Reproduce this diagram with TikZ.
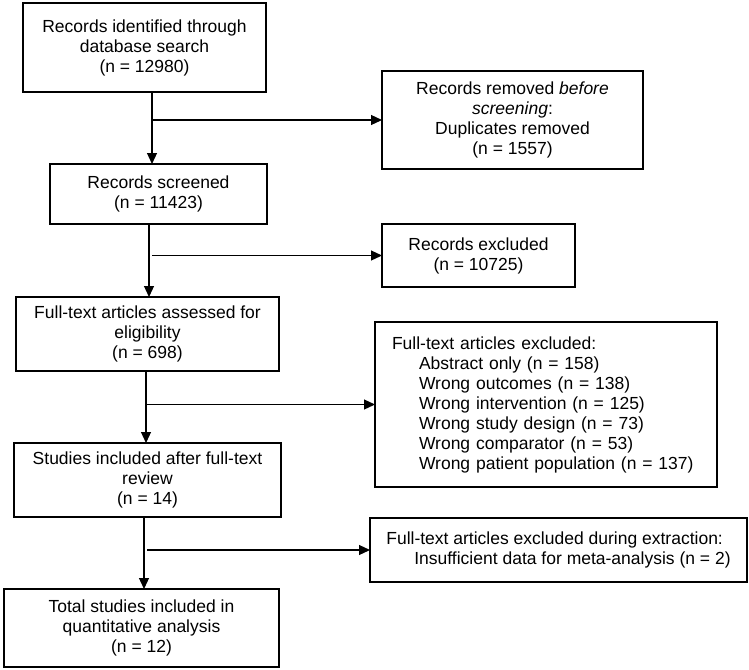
\documentclass[tikz,border=0pt]{standalone}
\usepackage{fontspec}
\setmainfont{Liberation Sans}
\usetikzlibrary{arrows.meta}

\tikzset{
    box/.style={draw,line width=1.6pt,inner sep=0pt,outer sep=0pt,align=center,
        font=\fontsize{17.5}{20}\selectfont},
    listbox/.style={box,align=left,inner xsep=17pt},
}

\begin{document}
\begin{tikzpicture}[x=1pt,y=-1pt,>={Triangle[length=11pt,width=10pt]}]
    \useasboundingbox (0,0) rectangle (749,669);

    % main column
    \node[box,minimum width=243pt,minimum height=89pt] (identified) at (144.5,47.5) {Records identified through\\database search\\(n = 12980)};
    \node[box,minimum width=217pt,minimum height=60pt] (screened) at (158.5,194) {Records screened\\(n = 11423)};
    \node[box,minimum width=263pt,minimum height=74pt] (assessed) at (147.5,334) {Full-text articles assessed for\\eligibility\\(n = 698)};
    \node[box,minimum width=267pt,minimum height=74pt] (included) at (147.5,480) {Studies included after full-text\\review\\(n = 14)};
    \node[box,minimum width=275pt,minimum height=78pt] (total) at (141.5,628) {Total studies included in\\quantitative analysis\\(n = 12)};

    % exclusions
    \node[box,minimum width=261pt,minimum height=98pt] (removed) at (512.5,120) {Records removed \textit{before}\\\textit{screening}:\\Duplicates removed\\(n = 1557)};
    \node[box,minimum width=193pt,minimum height=63pt] (excluded) at (478.5,255.5) {Records excluded\\(n = 10725)};
    \node[listbox,text width=308pt,minimum height=165pt] (ftexcluded) at (546,404.5) {Full-text articles excluded:\\
        \hspace*{27pt}Abstract only (n = 158)\\
        \hspace*{27pt}Wrong outcomes (n = 138)\\
        \hspace*{27pt}Wrong intervention (n = 125)\\
        \hspace*{27pt}Wrong study design (n = 73)\\
        \hspace*{27pt}Wrong comparator (n = 53)\\
        \hspace*{27pt}Wrong patient population (n = 137)};
    \node[box,align=left,minimum width=377pt,minimum height=64pt] (extraction) at (558.5,550) {Full-text articles excluded during extraction:\\
        \hspace*{28pt}Insufficient data for meta-analysis (n = 2)};

    \draw[->,line width=1.2pt] ([xshift=7.5pt]identified.south) -- ([xshift=7.5pt]identified.south |- screened.north);
    \draw[->,line width=1.2pt] ([xshift=7.5pt]identified.south |- removed.west) -- (removed.west);
    \draw[->,line width=1.2pt] ([xshift=-9.5pt]screened.south) -- ([xshift=-9.5pt]screened.south |- assessed.north);
    \draw[->,line width=1.2pt] ([xshift=-6.5pt]screened.south |- excluded.west) -- (excluded.west);
    \draw[->,line width=1.2pt] ([xshift=-1.5pt]assessed.south) -- ([xshift=-1.5pt]assessed.south |- included.north);
    \draw[->,line width=1.2pt] ([xshift=-1.5pt]assessed.south |- ftexcluded.west) -- (ftexcluded.west);
    \draw[->,line width=1.2pt] ([xshift=-3.5pt]included.south) -- ([xshift=-3.5pt]included.south |- total.north);
    \draw[->,line width=1.2pt] ([xshift=-0.5pt]included.south |- extraction.west) -- (extraction.west);
\end{tikzpicture}
\end{document}
